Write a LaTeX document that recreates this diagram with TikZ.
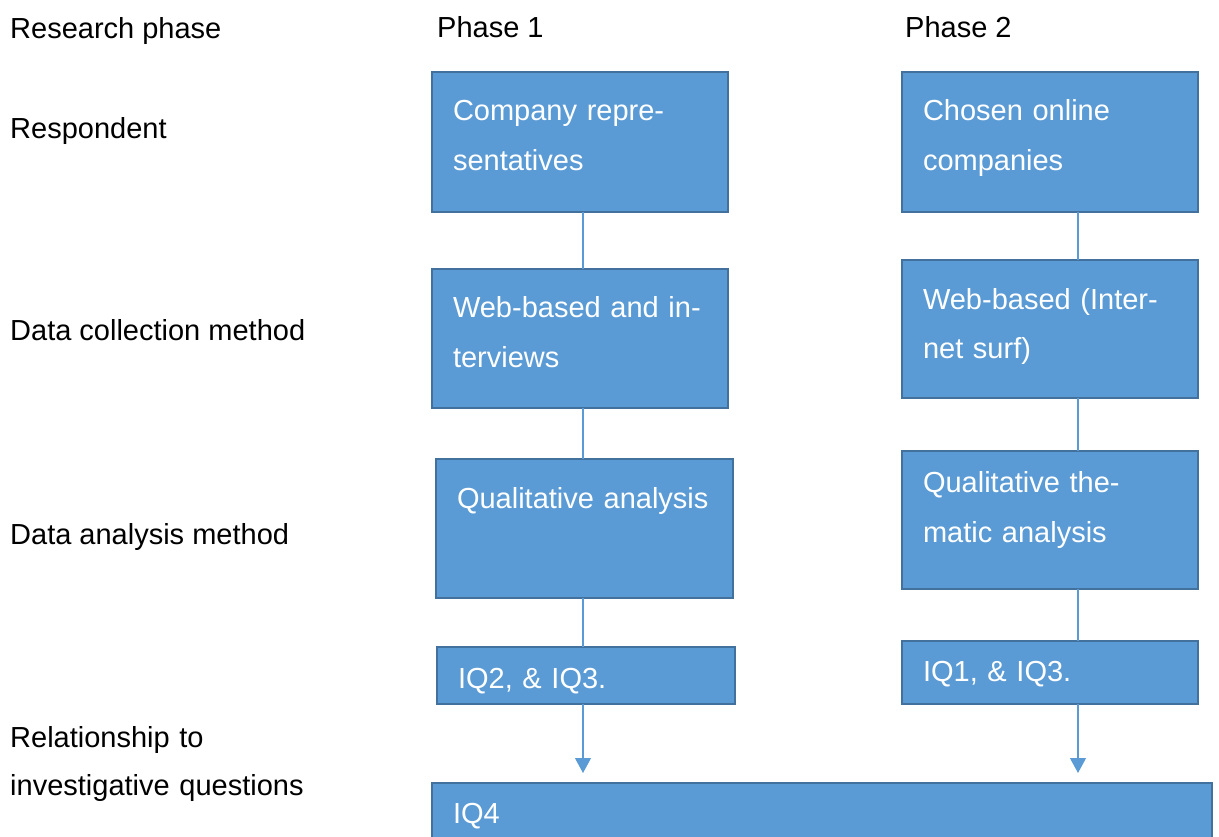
\documentclass[tikz,border=0pt]{standalone}
\usepackage{fontspec}
\setmainfont{Liberation Sans}
\usetikzlibrary{arrows.meta}
\definecolor{boxfill}{HTML}{5B9BD5}
\definecolor{boxline}{HTML}{41719C}
\definecolor{linkline}{HTML}{5B9BD5}
\newcommand{\phasefont}{\fontsize{29pt}{50pt}\selectfont}
\tikzstyle{phasebox}=[draw=boxline, fill=boxfill, line width=1.2pt, anchor=north west, outer sep=0pt, inner xsep=21pt, inner ysep=0pt, align=left, text=white, font=\phasefont]
\tikzstyle{rowlabel}=[anchor=base west, inner sep=0pt, align=left, font=\fontsize{29pt}{48pt}\selectfont]
\tikzstyle{flow}=[-{Triangle[width=16pt,length=15pt]}, shorten >=10pt]
\providecommand{\phasebox}{\node[phasebox]}

\begin{document}
\begin{tikzpicture}[x=1pt, y=-1pt,
    every edge/.style={draw=linkline, line width=1.1pt}
]
\useasboundingbox (0,0) rectangle (1219,837);
% row labels
\node[rowlabel] (lphase) at (10,39) {Research phase};
\node[rowlabel] (lresp) at (10,139) {Respondent};
\node[rowlabel] (lcoll) at (10,341) {Data collection method};
\node[rowlabel] (lanal) at (10,544) {Data analysis method};
\node[rowlabel, text width=320pt] (lrel) at (10,747) {Relationship to\\investigative questions};
\node[rowlabel] (phaseone) at (437,38) {Phase 1};
\node[rowlabel] (phasetwo) at (905,38) {Phase 2};
% phase 1
\phasebox[text width=254pt, text height=49pt, text depth=91pt] (p1resp) at (432,72) {Company repre-\\sentatives};
\phasebox[text width=254pt, text height=49pt, text depth=90pt] (p1coll) at (432,269) {Web-based and in-\\terviews};
\phasebox[text width=255pt, text height=49pt, text depth=90pt] (p1anal) at (436,459) {Qualitative analysis};
\phasebox[text width=256pt, text height=41pt, text depth=16pt] (p1iq) at (437,647) {IQ2, \& IQ3.};
% phase 2
\phasebox[text width=254pt, text height=49pt, text depth=91pt] (p2resp) at (902,72) {Chosen online\\companies};
\phasebox[text width=254pt, text height=49pt, text depth=89pt] (p2coll) at (902,260) {Web-based (Inter-\\net surf)};
\phasebox[text width=254pt, text height=41pt, text depth=97pt] (p2anal) at (902,451) {Qualitative the-\\matic analysis};
\phasebox[text width=254pt, text height=40pt, text depth=23pt] (p2iq) at (902,641) {IQ1, \& IQ3.};
% common box
\phasebox[text width=738pt, text height=40pt, text depth=40pt] (iq4) at (432,783) {IQ4};
\coordinate (col1) at (583,0);
\coordinate (col2) at (1078,0);
\path
(p1resp.south -| col1) edge (p1coll.north -| col1)
(p1coll.south -| col1) edge (p1anal.north -| col1)
(p1anal.south -| col1) edge (p1iq.north -| col1)
(p1iq.south -| col1) edge[flow] (iq4.north -| col1)
(p2resp.south -| col2) edge (p2coll.north -| col2)
(p2coll.south -| col2) edge (p2anal.north -| col2)
(p2anal.south -| col2) edge (p2iq.north -| col2)
(p2iq.south -| col2) edge[flow] (iq4.north -| col2)
;
\end{tikzpicture}
\end{document}
